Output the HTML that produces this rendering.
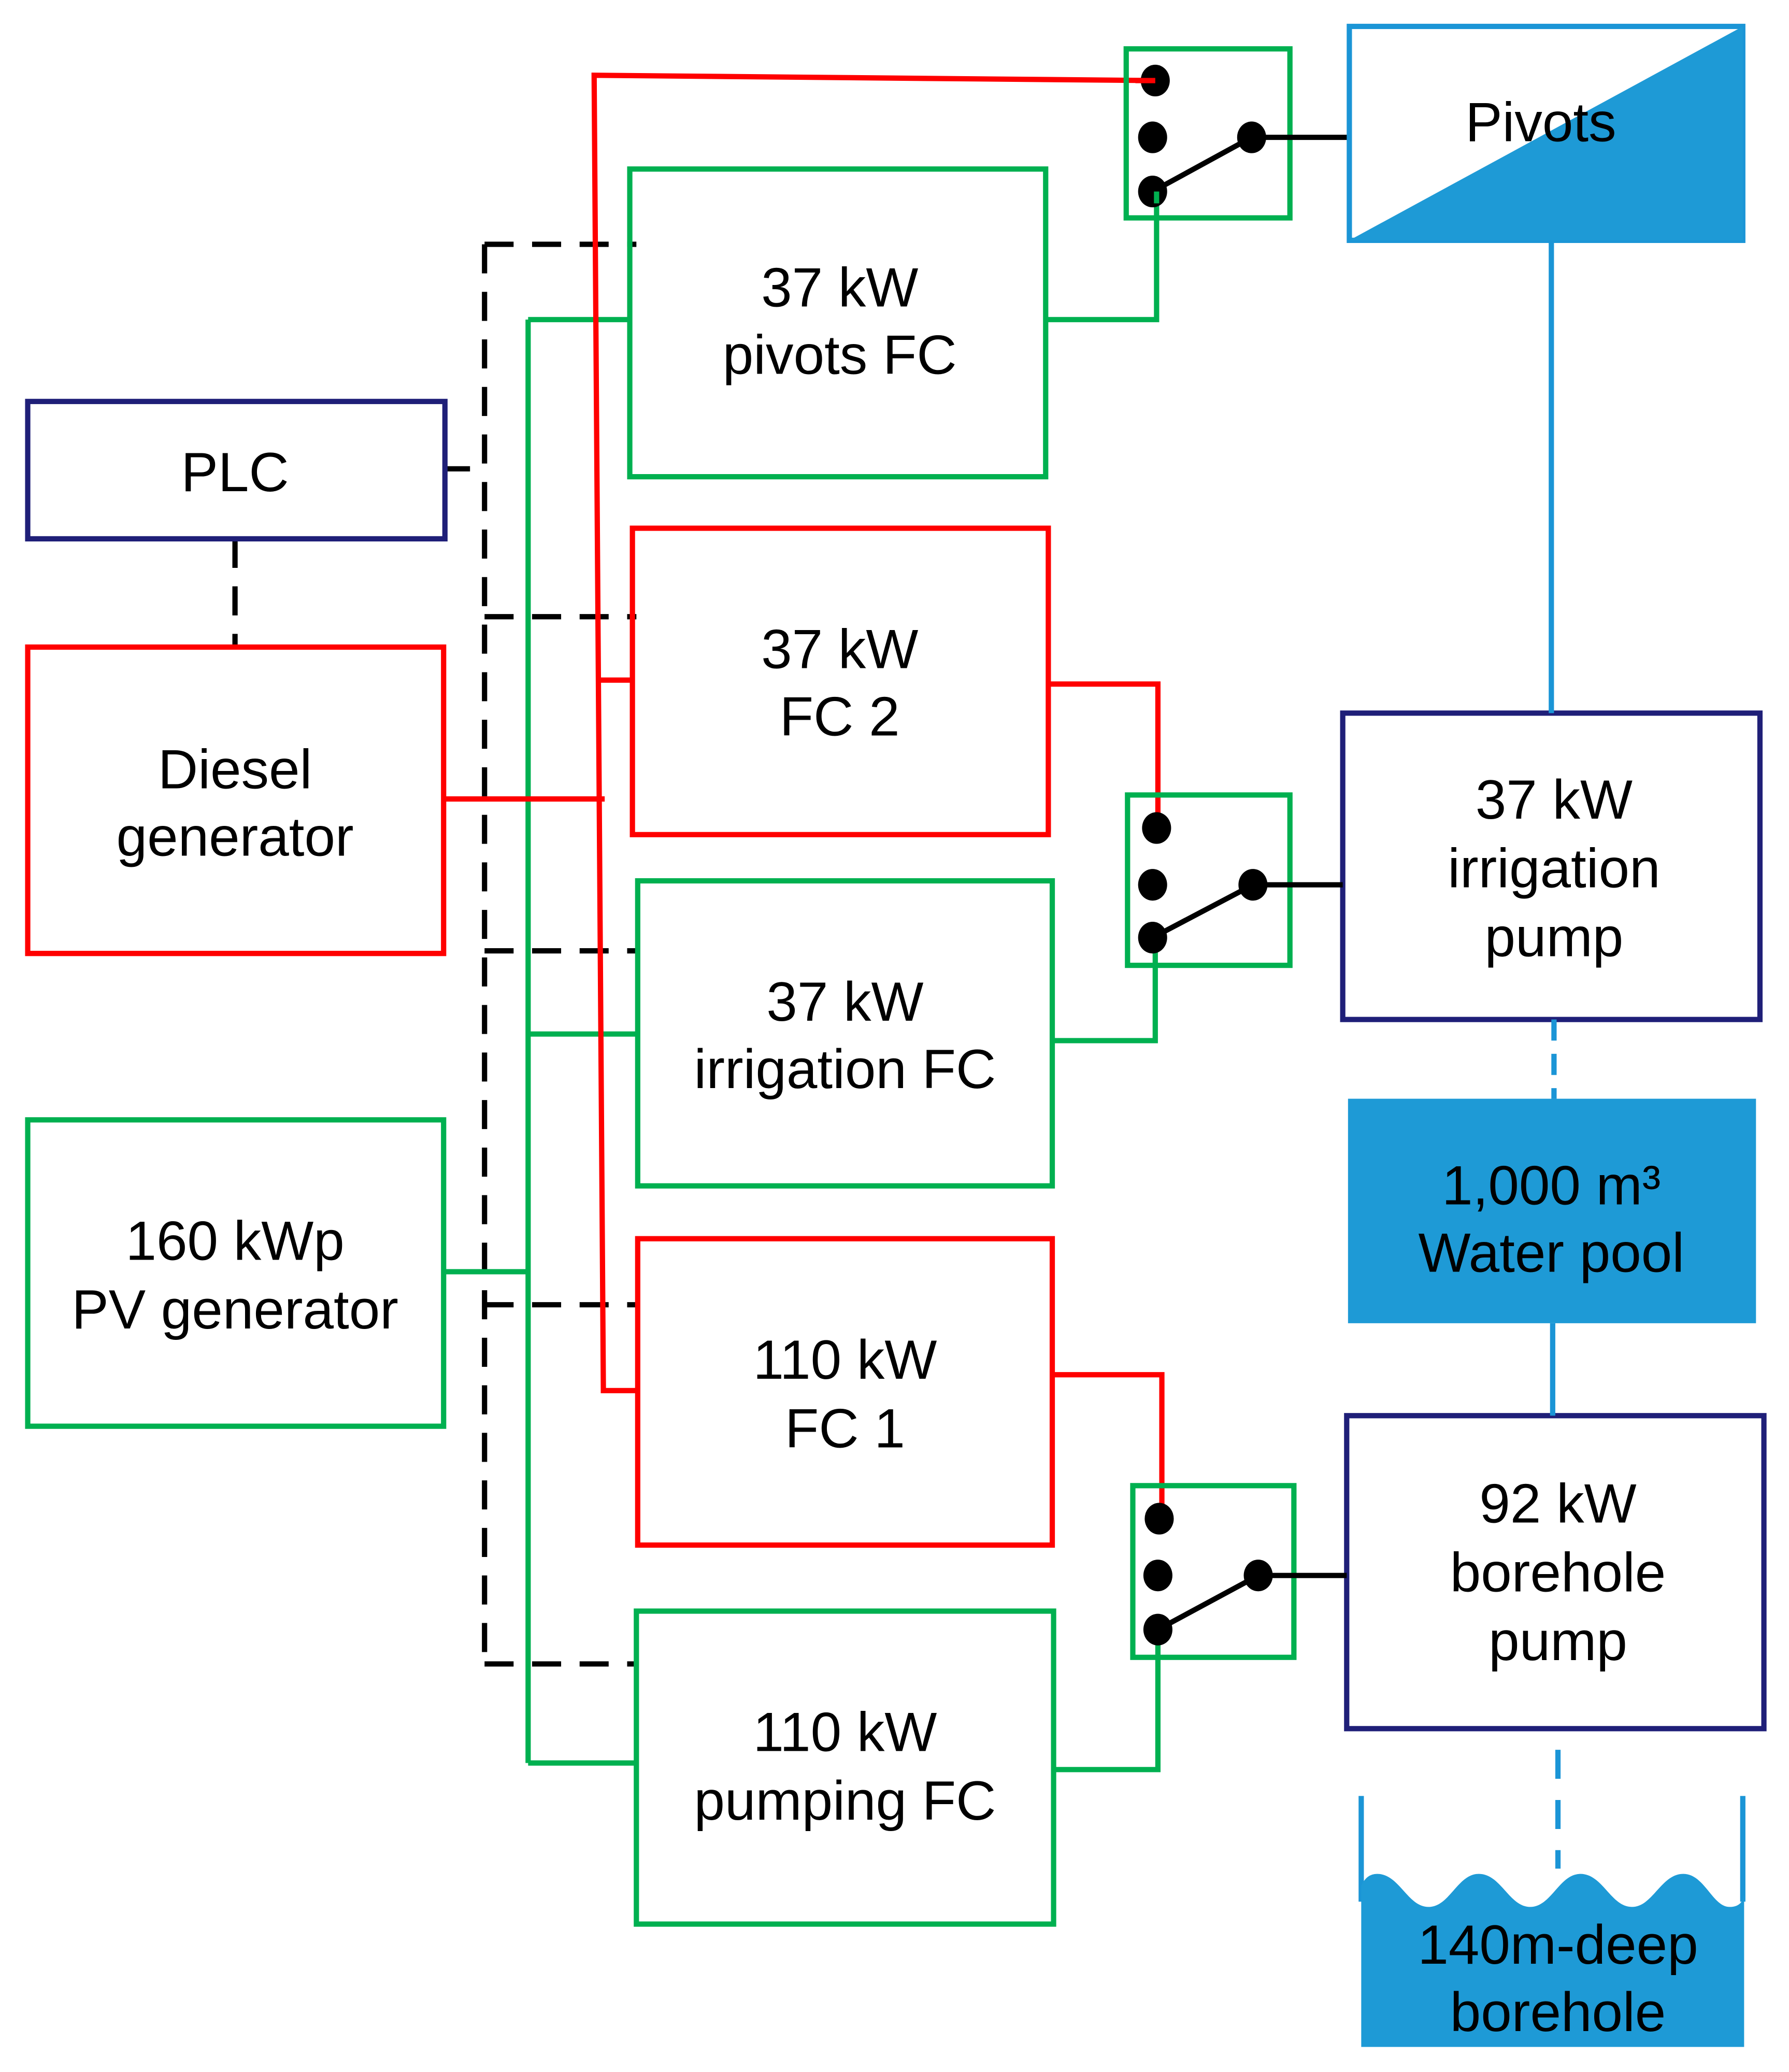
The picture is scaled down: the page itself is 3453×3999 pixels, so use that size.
<!DOCTYPE html>
<html><head><meta charset="utf-8"><style>
html,body{margin:0;padding:0;background:#fff;}
svg{display:block;}
text{font-family:"Liberation Sans",Arial,sans-serif;font-size:42px;fill:#000;text-anchor:middle;}
</style></head><body>
<svg width="3453" height="3999" viewBox="0 0 1355 1569" preserveAspectRatio="none" xmlns="http://www.w3.org/2000/svg">
<rect width="1355" height="1569" fill="#fff"/>
<g fill="none" stroke-linejoin="miter" stroke-width="4">
<g stroke="#000" stroke-dasharray="22,14">
<path d="M367,185 V1260"/>
<path d="M367,185 H482 M367,467 H482 M367,720 H484 M367,988 H482 M367,1260 H482"/>
<path d="M178,408 V490"/>
</g>
<path d="M337,355 H356" stroke="#000"/>
<g stroke="#00b050">
<path d="M400,242 V1335"/>
<path d="M400,242 H477 M400,783 H483 M400,1335 H482 M336,963 H400"/>
<path d="M792,242 H876 V145"/>
<path d="M797,788 H875 V710"/>
<path d="M798,1340 H877 V1234"/>
</g>
<g stroke="#ff0000">
<path d="M875,61 L450,57 L457,1053 H483"/>
<path d="M454,515 H479"/>
<path d="M337,605 H458"/>
<path d="M794,518 H877 V627"/>
<path d="M797,1041 H880 V1150"/>
</g>
<rect x="477" y="128" width="315" height="233" stroke="#00b050"/>
<rect x="479" y="400" width="315" height="232" stroke="#ff0000"/>
<rect x="483" y="667" width="314" height="231" stroke="#00b050"/>
<rect x="483" y="938" width="314" height="232" stroke="#ff0000"/>
<rect x="482" y="1220" width="316" height="237" stroke="#00b050"/>
<rect x="21" y="304" width="316" height="104" stroke="#1f1f78"/>
<rect x="21" y="490" width="315" height="232" stroke="#ff0000"/>
<rect x="21" y="848" width="315" height="232" stroke="#00b050"/>
<rect x="1017" y="540" width="316" height="232" stroke="#1f1f78"/>
<rect x="1020" y="1072" width="316" height="237" stroke="#1f1f78"/>
<rect x="853" y="37" width="124" height="128" stroke="#00b050"/>
<rect x="854" y="602" width="123" height="129" stroke="#00b050"/>
<rect x="858" y="1125" width="122" height="130" stroke="#00b050"/>
<g stroke="#000">
<path d="M873,145 L948,104 H1022"/>
<path d="M873,710 L949,670 H1017"/>
<path d="M877,1234 L953,1193 H1020"/>
</g>
<g stroke="#1b95d6">
<path d="M1175,182 V540"/>
<path d="M1176,1002 V1072"/>
<path d="M1177,772 V832" stroke-dasharray="16,10"/>
<path d="M1180,1325 V1415" stroke-dasharray="22,16"/>
<path d="M1031,1360 V1440 M1320,1360 V1440"/>
<rect x="1022" y="20" width="298" height="162"/>
</g>
</g>
<polygon points="1022,182 1320,20 1320,182" fill="#1e9ad6"/>
<rect x="1021" y="832" width="309" height="170" fill="#1e9ad6"/>
<path d="M1031,1550 V1428 Q1035,1419 1043,1419 C1060,1419 1066,1444 1082,1444 C1098,1444 1104,1419 1120,1419 C1137,1419 1143,1444 1159,1444 C1175,1444 1181,1419 1197,1419 C1214,1419 1220,1444 1236,1444 C1252,1444 1258,1419 1275,1419 C1291,1419 1297,1444 1310,1444 Q1321,1444 1321,1432 V1550 Z" fill="#1e9ad6"/>
<g fill="#000">
<ellipse cx="875" cy="61" rx="11" ry="12"/><ellipse cx="873" cy="104" rx="11" ry="12"/><ellipse cx="873" cy="145" rx="11" ry="12"/><ellipse cx="948" cy="104" rx="11" ry="12"/>
<ellipse cx="876" cy="627" rx="11" ry="12"/><ellipse cx="873" cy="670" rx="11" ry="12"/><ellipse cx="873" cy="710" rx="11" ry="12"/><ellipse cx="949" cy="670" rx="11" ry="12"/>
<ellipse cx="878" cy="1150" rx="11" ry="12"/><ellipse cx="877" cy="1193" rx="11" ry="12"/><ellipse cx="877" cy="1234" rx="11" ry="12"/><ellipse cx="953" cy="1193" rx="11" ry="12"/>
</g>
<g fill="none" stroke-width="4">
<path d="M876,154 V145" stroke="#00b050"/>
<path d="M875,61 H860" stroke="#ff0000"/>
</g>
<text x="1167" y="107">Pivots</text>
<text x="636" y="232">37 kW</text><text x="636" y="283">pivots FC</text>
<text x="178" y="372">PLC</text>
<text x="636" y="506">37 kW</text><text x="636" y="557">FC 2</text>
<text x="178" y="597">Diesel</text><text x="178" y="648">generator</text>
<text x="640" y="773">37 kW</text><text x="640" y="824">irrigation FC</text>
<text x="1177" y="620">37 kW</text><text x="1177" y="672">irrigation</text><text x="1177" y="724">pump</text>
<text x="1175" y="912">1,000 m³</text><text x="1175" y="963">Water pool</text>
<text x="178" y="954">160 kWp</text><text x="178" y="1006">PV generator</text>
<text x="640" y="1044">110 kW</text><text x="640" y="1096">FC 1</text>
<text x="1180" y="1153">92 kW</text><text x="1180" y="1205">borehole</text><text x="1180" y="1257">pump</text>
<text x="640" y="1326">110 kW</text><text x="640" y="1378">pumping FC</text>
<text x="1180" y="1487">140m-deep</text><text x="1180" y="1538">borehole</text>
</svg>
</body></html>
